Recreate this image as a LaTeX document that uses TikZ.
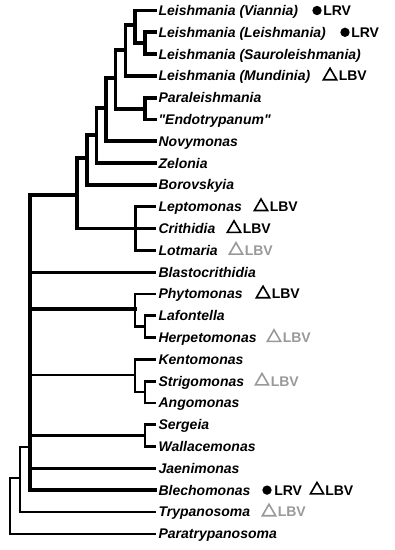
\documentclass[tikz,border=0pt]{standalone}
\usepackage{fontspec}
\setmainfont{Liberation Sans}
\usetikzlibrary{shapes.geometric}

\tikzset{
  taxon/.style={anchor=west,inner xsep=2.5pt,inner ysep=0pt,text height=7.6pt,text depth=0pt,
    font=\fontsize{10.5}{12}\selectfont\bfseries\itshape},
  virus/.style={anchor=west,inner sep=0pt,text height=7.6pt,text depth=0pt,
    font=\fontsize{10.5}{12}\selectfont\bfseries},
  lrv/.style={circle,fill=black,inner sep=0pt,minimum size=7pt},
  lbv/.style={regular polygon,regular polygon sides=3,draw,line width=1.2pt,inner sep=0pt,minimum size=11.5pt},
  faint/.style={color=black!40},
  branch/.style={line width=2.1pt},
  heavy/.style={line width=2.9pt},
  stem/.style={line width=1.7pt},
}

\begin{document}
\begin{tikzpicture}[x=0.75pt,y=-0.75pt,line cap=rect,line join=miter]
\useasboundingbox (0,0) rectangle (395,550);
% taxa
\node[taxon] (viannia) at (155,10.5) {Leishmania (Viannia)};
\node[taxon] (leishL) at (155,32.3) {Leishmania (Leishmania)};
\node[taxon] (sauro) at (155,54.1) {Leishmania (Sauroleishmania)};
\node[taxon] (mundinia) at (155,75.9) {Leishmania (Mundinia)};
\node[taxon] (paral) at (155,97.7) {Paraleishmania};
\node[taxon] (endo) at (155,119.5) {\textquotedbl Endotrypanum\textquotedbl};
\node[taxon] (novy) at (155,141.3) {Novymonas};
\node[taxon] (zelonia) at (155,163.1) {Zelonia};
\node[taxon] (borov) at (155,184.9) {Borovskyia};
\node[taxon] (lepto) at (155,206.7) {Leptomonas};
\node[taxon] (crith) at (155,228.5) {Crithidia};
\node[taxon] (lotm) at (155,250.3) {Lotmaria};
\node[taxon] (blasto) at (155,272.1) {Blastocrithidia};
\node[taxon] (phyto) at (155,293.9) {Phytomonas};
\node[taxon] (lafon) at (155,315.7) {Lafontella};
\node[taxon] (herpe) at (155,337.5) {Herpetomonas};
\node[taxon] (kento) at (155,359.3) {Kentomonas};
\node[taxon] (strigo) at (155,381.1) {Strigomonas};
\node[taxon] (ango) at (155,402.9) {Angomonas};
\node[taxon] (sergeia) at (155,424.7) {Sergeia};
\node[taxon] (walla) at (155,446.5) {Wallacemonas};
\node[taxon] (jaeni) at (155,468.3) {Jaenimonas};
\node[taxon] (blecho) at (155,490.1) {Blechomonas};
\node[taxon] (trypa) at (155,511.9) {Trypanosoma};
\node[taxon] (paratry) at (155,533.7) {Paratrypanosoma};
% inner nodes
\coordinate (nLL) at (145,43.2);
\coordinate (nV) at (135,25);
\coordinate (nLeish) at (125.5,50);
\coordinate (nPE) at (145,108.6);
\coordinate (nLP) at (115.5,78);
\coordinate (nNov) at (106,108);
\coordinate (nZel) at (96.5,135);
\coordinate (nBor) at (87,158);
\coordinate (nLep) at (135.5,228.5);
\coordinate (nLsh) at (77,195);
\coordinate (nLH) at (145,326.6);
\coordinate (nPhy) at (135,309);
\coordinate (nStA) at (145,392);
\coordinate (nKen) at (135,375);
\coordinate (nSW) at (145,435.6);
\coordinate (nBig) at (30,447);
\coordinate (nTry) at (20,478);
\coordinate (nRoot) at (10,478);
% Leishmaniinae
\draw[heavy] (nLL) |- (leishL.west);
\draw[heavy] (nLL) |- (sauro.west);
\draw[heavy] (nV) |- (viannia.west);
\draw[heavy] (nV) |- (nLL);
\draw[heavy] (nLeish) |- (nV);
\draw[heavy] (nLeish) |- (mundinia.west);
\draw[heavy] (nPE) |- (paral.west);
\draw[heavy] (nPE) |- (endo.west);
\draw[heavy] (nLP) |- (nLeish);
\draw[heavy] (nLP) |- (nPE);
\draw[heavy] (nNov) |- (nLP);
\draw[heavy] (nNov) |- (novy.west);
\draw[heavy] (nZel) |- (nNov);
\draw[heavy] (nZel) |- (zelonia.west);
\draw[heavy] (nBor) |- (nZel);
\draw[heavy] (nBor) |- (borov.west);
\draw[branch] (nLep) |- (lepto.west);
\draw[branch] (nLep) -- (crith.west);
\draw[branch] (nLep) |- (lotm.west);
\draw[heavy] (nLsh) |- (nBor);
\draw[heavy] (nLsh) |- (nLep);
% other clades
\draw[branch] (nLH) |- (lafon.west);
\draw[branch] (nLH) |- (herpe.west);
\draw[branch] (nPhy) |- (phyto.west);
\draw[branch] (nPhy) |- (nLH);
\draw[branch] (nStA) |- (strigo.west);
\draw[branch] (nStA) |- (ango.west);
\draw[branch] (nKen) |- (kento.west);
\draw[branch] (nKen) |- (nStA);
\draw[branch] (nSW) |- (sergeia.west);
\draw[branch] (nSW) |- (walla.west);
\draw[heavy] (nBig) |- (nLsh);
\draw[branch] (nBig) |- (blasto.west);
\draw[heavy] (nBig) |- (nPhy);
\draw[branch] (nBig) |- (nKen);
\draw[branch] (nBig) |- (nSW);
\draw[branch] (nBig) |- (jaeni.west);
\draw[heavy] (nBig) |- (blecho.west);
\draw[stem] (nTry) |- (nBig);
\draw[stem] (nTry) |- (trypa.west);
\draw[stem] (nRoot) -- (nTry);
\draw[stem] (nRoot) |- (paratry.west);
% viruses
\node[lrv] (vianniaDot) at (317,10.5) {};
\node[virus] (vianniaLrv) at (323,10.5) {LRV};
\node[lrv] (leishLDot) at (345,32.3) {};
\node[virus] (leishLLrv) at (351,32.3) {LRV};
\node[lbv] (mundiniaTri) at (330,75.9) {};
\node[virus] (mundiniaLbv) at (338.5,75.9) {LBV};
\node[lbv] (leptoTri) at (261,206.7) {};
\node[virus] (leptoLbv) at (269.5,206.7) {LBV};
\node[lbv] (crithTri) at (234,228.5) {};
\node[virus] (crithLbv) at (242.5,228.5) {LBV};
\node[lbv,faint] (lotmTri) at (236,250.3) {};
\node[virus,faint] (lotmLbv) at (244.5,250.3) {LBV};
\node[lbv] (phytoTri) at (263,293.9) {};
\node[virus] (phytoLbv) at (271.5,293.9) {LBV};
\node[lbv,faint] (herpeTri) at (274,337.5) {};
\node[virus,faint] (herpeLbv) at (282.5,337.5) {LBV};
\node[lbv,faint] (strigoTri) at (262,381.1) {};
\node[virus,faint] (strigoLbv) at (270.5,381.1) {LBV};
\node[lrv] (blechoDot) at (267,490.1) {};
\node[virus] (blechoLrv) at (274,490.1) {LRV};
\node[lbv] (blechoTri) at (317,490.1) {};
\node[virus] (blechoLbv) at (325,490.1) {LBV};
\node[lbv,faint] (trypaTri) at (269,511.9) {};
\node[virus,faint] (trypaLbv) at (277.5,511.9) {LBV};
\end{tikzpicture}
\end{document}
